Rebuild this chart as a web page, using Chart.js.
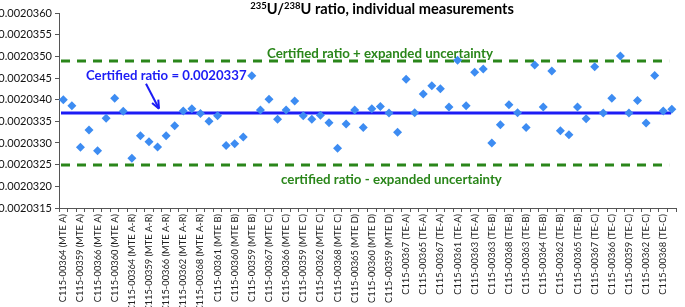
<!DOCTYPE html>
<html>
<head>
<meta charset="utf-8">
<script src="https://cdn.jsdelivr.net/npm/chart.js@4/dist/chart.umd.min.js"></script>
<style>
    html, body { margin: 0; padding: 0; background: #fff; }
</style>
</head>
<body>
<canvas id="chart" width="685" height="307"></canvas>
<script>
const tickLabels = [
    'C115-00364 (MTE A)', 'C115-00359 (MTE A)', 'C115-00366 (MTE A)', 'C115-00360 (MTE A)',
    'C115-00364 (MTE A-R)', 'C115-00359 (MTE A-R)', 'C115-00366 (MTE A-R)', 'C115-00362 (MTE A-R)',
    'C115-00368 (MTE A-R)', 'C115-00361 (MTE B)', 'C115-00360 (MTE B)', 'C115-00359 (MTE B)',
    'C115-00367 (MTE C)', 'C115-00366 (MTE C)', 'C115-00359 (MTE C)', 'C115-00362 (MTE C)',
    'C115-00368 (MTE C)', 'C115-00365 (MTE D)', 'C115-00360 (MTE D)', 'C115-00359 (MTE D)',
    'C115-00367 (TE-A)', 'C115-00365 (TE-A)', 'C115-00367 (TE-A)', 'C115-00361 (TE-A)',
    'C115-00363 (TE-A)', 'C115-00363 (TE-B)', 'C115-00368 (TE-B)', 'C115-00363 (TE-B)',
    'C115-00364 (TE-B)', 'C115-00362 (TE-B)', 'C115-00365 (TE-B)', 'C115-00367 (TE-C)',
    'C115-00366 (TE-C)', 'C115-00359 (TE-C)', 'C115-00362 (TE-C)', 'C115-00368 (TE-C)'
];

// only every other measurement is labelled on the axis
const categories = tickLabels.flatMap(label => [label, '']);

const ratios = [
    0.0020340, 0.00203386, 0.0020329, 0.0020333, 0.00203282, 0.00203357, 0.00203403, 0.00203373,
    0.00203265, 0.00203317, 0.00203303, 0.00203291, 0.00203317, 0.0020334, 0.00203374, 0.00203379,
    0.00203368, 0.0020335, 0.00203363, 0.00203294, 0.00203298, 0.00203314, 0.00203455, 0.00203376,
    0.00203401, 0.00203355, 0.00203376, 0.00203397, 0.00203363, 0.00203355, 0.00203364, 0.00203347,
    0.00203288, 0.00203344, 0.00203376, 0.00203336, 0.00203379, 0.00203384, 0.00203369, 0.00203325,
    0.00203447, 0.0020337, 0.00203413, 0.00203432, 0.00203425, 0.00203383, 0.00203491, 0.00203386,
    0.00203463, 0.00203471, 0.002033, 0.00203342, 0.00203388, 0.0020337, 0.00203336, 0.0020348,
    0.00203383, 0.00203466, 0.00203328, 0.00203319, 0.00203383, 0.00203356, 0.00203476, 0.00203369,
    0.00203403, 0.00203501, 0.00203369, 0.00203398, 0.00203346, 0.00203456, 0.00203374, 0.00203378
];

const yTicks = [
    0.0020315, 0.0020320, 0.0020325, 0.0020330, 0.0020335,
    0.0020340, 0.0020345, 0.0020350, 0.0020355, 0.0020360
];

const certifiedRatio = 0.0020337;
const expandedUncertainty = 0.0000012;

const BLUE = '#1c1cf5';
const GREEN = '#2a861a';
const FONT = 'Lato, "Open Sans", sans-serif';

const overlay = {
    id: 'overlay',
    beforeDatasetsDraw(chart) {
        const { ctx, chartArea, scales } = chart;
        const y = scales.y;
        const x0 = chartArea.left + 2;
        const x1 = chartArea.right - 7;

        ctx.save();
        ctx.lineWidth = 3;
        ctx.strokeStyle = GREEN;
        ctx.setLineDash([9, 7]);
        [certifiedRatio + expandedUncertainty, certifiedRatio - expandedUncertainty].forEach(v => {
            const py = Math.round(y.getPixelForValue(v));
            ctx.beginPath();
            ctx.moveTo(x0, py);
            ctx.lineTo(x1, py);
            ctx.stroke();
        });
        ctx.setLineDash([]);
        ctx.strokeStyle = BLUE;
        const cy = Math.round(y.getPixelForValue(certifiedRatio));
        ctx.beginPath();
        ctx.moveTo(x0, cy);
        ctx.lineTo(x1 + 2, cy);
        ctx.stroke();
        ctx.restore();
    },
    afterDatasetsDraw(chart) {
        const { ctx, scales } = chart;
        const y = scales.y;
        const upperY = y.getPixelForValue(certifiedRatio + expandedUncertainty);
        const lowerY = y.getPixelForValue(certifiedRatio - expandedUncertainty);
        const cy = y.getPixelForValue(certifiedRatio);

        ctx.save();
        ctx.textBaseline = 'middle';
        ctx.textAlign = 'left';

        ctx.font = 'bold 13.3px ' + FONT;
        ctx.fillStyle = GREEN;
        ctx.fillText('Certified ratio + expanded uncertainty', 267, upperY - 7);
        ctx.fillText('certified ratio - expanded uncertainty', 281, lowerY + 15);

        ctx.font = 'bold 13.2px ' + FONT;
        ctx.fillStyle = BLUE;
        ctx.fillText('Certified ratio = 0.0020337', 86, cy - 37);

        // arrow pointing at the certified line
        const ax = 146, ay = cy - 29, bx = 159, by = cy - 4;
        ctx.strokeStyle = BLUE;
        ctx.lineWidth = 2;
        ctx.beginPath();
        ctx.moveTo(ax, ay);
        ctx.lineTo(bx, by);
        ctx.stroke();
        const ang = Math.atan2(by - ay, bx - ax);
        ctx.beginPath();
        ctx.moveTo(bx, by);
        ctx.lineTo(bx - 9 * Math.cos(ang - 0.4), by - 9 * Math.sin(ang - 0.4));
        ctx.moveTo(bx, by);
        ctx.lineTo(bx - 9 * Math.cos(ang + 0.4), by - 9 * Math.sin(ang + 0.4));
        ctx.stroke();

        // title with superscript mass numbers
        const parts = [
            { t: '235', sup: true }, { t: 'U/' }, { t: '238', sup: true },
            { t: 'U ratio, individual measurements' }
        ];
        const big = 'bold 14.6px ' + FONT;
        const small = 'bold 9.5px ' + FONT;
        let total = 0;
        parts.forEach(p => {
            ctx.font = p.sup ? small : big;
            p.w = ctx.measureText(p.t).width;
            total += p.w;
        });
        let tx = 382 - total / 2;
        ctx.textBaseline = 'alphabetic';
        ctx.fillStyle = '#000';
        parts.forEach(p => {
            ctx.font = p.sup ? small : big;
            ctx.fillText(p.t, tx, p.sup ? 9 : 14);
            tx += p.w;
        });
        ctx.restore();
    }
};

const ctx = document.getElementById('chart').getContext('2d');

new Chart(ctx, {
    type: 'line',
    data: {
        labels: categories,
        datasets: [{
            label: 'Individual measurements',
            data: ratios,
            showLine: false,
            pointStyle: 'rectRot',
            pointRadius: 4.5,
            pointBackgroundColor: '#3d8cf2',
            pointBorderColor: '#3d8cf2',
            pointBorderWidth: 0
        }]
    },
    options: {
        responsive: false,
        animation: false,
        devicePixelRatio: 1,
        layout: {
            padding: { top: 13, right: 2, left: 0, bottom: 0 }
        },
        plugins: {
            legend: { display: false },
            tooltip: { enabled: false }
        },
        scales: {
            x: {
                offset: true,
                grid: {
                    offset: true,
                    drawOnChartArea: false,
                    drawTicks: true,
                    tickLength: 4,
                    color: '#555'
                },
                border: { display: true, color: '#555', width: 1 },
                ticks: {
                    autoSkip: false,
                    maxRotation: 90,
                    minRotation: 90,
                    padding: 2,
                    color: '#222',
                    font: { family: FONT, size: 9.3 }
                },
                afterFit: scale => { scale.height = 99; }
            },
            y: {
                min: yTicks[0],
                max: yTicks[yTicks.length - 1],
                grid: {
                    drawOnChartArea: false,
                    drawTicks: true,
                    tickLength: 4,
                    color: '#555'
                },
                border: { display: true, color: '#555', width: 1 },
                afterBuildTicks: scale => {
                    scale.ticks = yTicks.map(v => ({ value: v }));
                },
                ticks: {
                    padding: 3,
                    color: '#111',
                    font: { family: FONT, size: 11 },
                    callback: v => v.toFixed(7)
                },
                afterFit: scale => { scale.width = 59; }
            }
        }
    },
    plugins: [overlay]
});
</script>
</body>
</html>
